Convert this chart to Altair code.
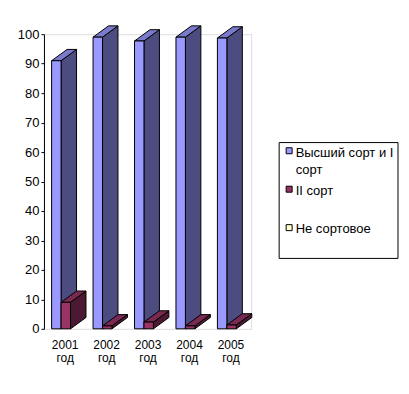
import json
import altair as alt
import pandas as pd

# ---- data ----
categories = ["2001 год", "2002 год", "2003 год", "2004 год", "2005 год"]
series_names = ["Высший сорт и I сорт", "II сорт", "Не сортовое"]
vals_high = [91.0, 99.0, 97.7, 99.0, 98.7]
vals_second = [9.0, 1.0, 2.3, 1.0, 1.3]
vals_none = [0.0, 0.0, 0.0, 0.0, 0.0]
series_values = [vals_high, vals_second, vals_none]

front_colors = ["#9999FF", "#993366", "#FFFFCC"]
side_colors = ["#4C4C80", "#4C1933", "#80806A"]
top_colors = ["#7A7ACC", "#7A2952", "#CCCCA3"]

# ---- 3D geometry (in scale units) ----
BAR_W = 0.228      # width of one bar, in category units
LEFT_GAP = 0.185   # gap before the first bar of a cluster
DX = 0.373         # depth offset, x (category units)
DY = 3.83          # depth offset, y (value units)

FONT = "Liberation Sans"
LEG_LH = 17

x_scale = alt.Scale(domain=[0, 5], nice=False, zero=False)
y_scale = alt.Scale(domain=[0, 100], nice=False)

x_axis = alt.Axis(
    values=[i + 0.5 for i in range(len(categories))],
    labelExpr=f"split({json.dumps(categories, ensure_ascii=False)}[floor(datum.value)], ' ')",
    domain=False, ticks=False, grid=False, title=None,
    labelFont=FONT, labelFontSize=12, labelColor="#000000",
    labelLineHeight=13, labelPadding=11, labelBaseline="top",
)
y_axis = alt.Axis(
    values=list(range(0, 101, 10)), grid=False, title=None,
    domainColor="#000000", tickColor="#000000", tickSize=3,
    labelFont=FONT, labelFontSize=13, labelColor="#000000", labelPadding=2,
)

legend_expr = (
    f"datum.label == {json.dumps(series_names[0], ensure_ascii=False)} ? "
    "['Высший сорт и I', 'сорт'] : [datum.label, ' ']"
)
legend = alt.Legend(
    title=None, orient="none", legendX=235, legendY=108,
    symbolType="M-1,-1.6H1V0.4H-1Z", symbolSize=36,
    symbolStrokeColor="#000000", symbolStrokeWidth=1, symbolOpacity=1,
    labelFont=FONT, labelFontSize=13, labelColor="#000000",
    labelExpr=legend_expr, labelLimit=300, labelOffset=0,
    strokeColor="#000000", fillColor="#FFFFFF", padding=4, rowPadding=6.5,
)

layers = []
for s, (name, vals) in enumerate(zip(series_names, series_values)):
    front, side, top = [], [], []
    for i, v in enumerate(vals):
        if v <= 0:
            continue
        x0 = i + LEFT_GAP + s * BAR_W
        x1 = x0 + BAR_W
        bid = f"{s}-{i}"
        front.append({"series": name, "x0": x0, "x1": x1, "y0": 0.0, "y1": v})
        side.append({"bar": bid, "x": x1, "lo": 0.0, "hi": v})
        side.append({"bar": bid, "x": x1 + DX, "lo": DY, "hi": v + DY})
        top.append({"bar": bid, "y": v, "xl": x0, "xr": x1})
        top.append({"bar": bid, "y": v + DY, "xl": x0 + DX, "xr": x1 + DX})
    if not front:
        continue
    side_layer = alt.Chart(pd.DataFrame(side)).mark_area(
        fill=side_colors[s], stroke="#000000", strokeWidth=1, opacity=1
    ).encode(
        x=alt.X("x:Q", scale=x_scale, axis=x_axis),
        y=alt.Y("hi:Q", scale=y_scale, axis=y_axis),
        y2="lo:Q",
        detail="bar:N",
    )
    top_layer = alt.Chart(pd.DataFrame(top)).mark_area(
        orient="horizontal", fill=top_colors[s], stroke="#000000", strokeWidth=1, opacity=1
    ).encode(
        y=alt.Y("y:Q", scale=y_scale, axis=y_axis),
        x=alt.X("xl:Q", scale=x_scale, axis=x_axis),
        x2="xr:Q",
        detail="bar:N",
    )
    front_layer = alt.Chart(pd.DataFrame(front)).mark_rect(
        stroke="#000000", strokeWidth=1, opacity=1
    ).encode(
        x=alt.X("x0:Q", scale=x_scale, axis=x_axis),
        x2="x1:Q",
        y=alt.Y("y1:Q", scale=y_scale, axis=y_axis),
        y2="y0:Q",
        fill=alt.Fill("series:N",
                      scale=alt.Scale(domain=series_names, range=front_colors),
                      legend=legend),
    )
    layers += [side_layer, top_layer, front_layer]

chart = alt.layer(*layers).properties(
    width=207.5, height=295,
    autosize=alt.AutoSizeParams(type="none"),
    padding={"left": 36, "top": 26, "right": 150, "bottom": 50},
    background="#FFFFFF",
).configure_view(stroke=None).configure_legend(
    labelFont=FONT, labelFontSize=13, labelColor="#000000"
).configure(
    style={"guide-label": {"lineHeight": LEG_LH, "font": FONT}}
)

chart.save("out.html", embed_options={"renderer": "svg", "actions": False})
